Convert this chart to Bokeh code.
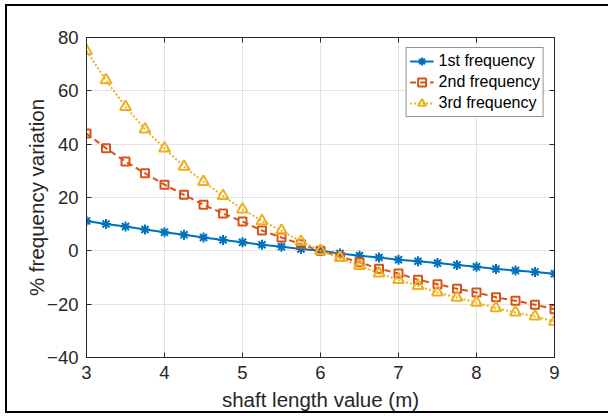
from bokeh.plotting import figure
from bokeh.models import LinearAxis, Legend, LegendItem, Range1d, FixedTicker
from bokeh.embed import file_html
from bokeh.resources import INLINE

x_vals = [3.0, 3.25, 3.5, 3.75, 4.0, 4.25, 4.5, 4.75, 5.0, 5.25, 5.5, 5.75, 6.0,
          6.25, 6.5, 6.75, 7.0, 7.25, 7.5, 7.75, 8.0, 8.25, 8.5, 8.75, 9.0]
freq1 = [11.2, 10.1, 9.1, 8.0, 7.0, 6.0, 5.0, 4.1, 3.2, 2.3, 1.5, 0.7, 0.0,
         -1.0, -1.8, -2.5, -3.3, -3.9, -4.6, -5.3, -6.0, -6.8, -7.4, -7.9, -8.6]
freq2 = [44.0, 38.5, 33.5, 29.1, 24.8, 21.0, 17.3, 14.0, 11.0, 7.6, 5.0, 2.5, 0.0,
         -2.2, -4.3, -6.7, -8.5, -10.8, -12.5, -14.2, -15.6, -17.4, -18.7, -20.2, -21.9]
freq3 = [75.0, 64.0, 54.0, 45.6, 38.4, 31.6, 25.9, 20.6, 15.6, 11.2, 7.6, 3.5, 0.0,
         -2.6, -5.6, -8.4, -10.9, -13.1, -15.6, -17.5, -19.4, -21.5, -23.1, -24.6, -26.5]
labels = ["1st frequency", "2nd frequency", "3rd frequency"]
x_ticks = [3, 4, 5, 6, 7, 8, 9]
y_ticks = [-40, -20, 0, 20, 40, 60, 80]

c1, c2, c3 = "#0072BD", "#D95319", "#EDB120"
axis_col = "#262626"
font = "Liberation Sans"

p = figure(width=608, height=413, output_backend="svg", toolbar_location=None,
           x_range=Range1d(3, 9), y_range=Range1d(-40, 80),
           min_border_left=86, min_border_right=54, min_border_top=37,
           min_border_bottom=56, x_axis_label="shaft length value (m)",
           y_axis_label="% frequency variation")
# outer figure frame (top, left, bottom edges) painted behind the transparent border area
p.styles = {"vertical-align": "top", "background":
            "linear-gradient(#000,#000) 5px 4px / 2px 409px no-repeat, "
            "linear-gradient(#000,#000) 5px 4px / 603px 2px no-repeat, "
            "linear-gradient(#000,#000) 5px 411px / 603px 2px no-repeat, #ffffff"}
p.background_fill_color = "white"
p.border_fill_alpha = 0
p.outline_line_color = axis_col
p.outline_line_width = 1

p.xaxis.ticker = FixedTicker(ticks=x_ticks)
p.yaxis.ticker = FixedTicker(ticks=y_ticks)
for ax in [p.xaxis[0], p.yaxis[0]]:
    ax.axis_line_color = axis_col
    ax.major_tick_line_color = axis_col
    ax.major_tick_in = 5
    ax.major_tick_out = 0
    ax.minor_tick_line_color = None
    ax.major_label_text_font = font
    ax.major_label_text_font_size = "18.5px"
    ax.major_label_text_color = axis_col
    ax.axis_label_text_font = font
    ax.axis_label_text_font_size = "20.5px"
    ax.axis_label_text_font_style = "normal"
    ax.axis_label_text_color = axis_col
p.xaxis.major_label_standoff = 8
p.yaxis.major_label_standoff = 8
p.xaxis.axis_label_standoff = 6
p.yaxis.axis_label_standoff = -4

top_ax = LinearAxis(ticker=FixedTicker(ticks=x_ticks),
                    major_label_overrides={t: "" for t in x_ticks},
                    major_tick_in=5, major_tick_out=0, minor_tick_line_color=None,
                    axis_line_color=axis_col, major_tick_line_color=axis_col)
right_ax = LinearAxis(ticker=FixedTicker(ticks=y_ticks),
                      major_label_overrides={t: "" for t in y_ticks},
                      major_tick_in=5, major_tick_out=0, minor_tick_line_color=None,
                      axis_line_color=axis_col, major_tick_line_color=axis_col)
p.add_layout(top_ax, "above")
p.add_layout(right_ax, "right")

p.xgrid.ticker = FixedTicker(ticks=x_ticks)
p.ygrid.ticker = FixedTicker(ticks=y_ticks)
p.grid.grid_line_color = "#E3E3E3"
p.grid.grid_line_width = 1

l1 = p.line(x_vals, freq1, line_color=c1, line_width=2)
s1 = p.scatter(x_vals, freq1, marker="asterisk", size=10, line_color=c1, line_width=2)
l2 = p.line(x_vals, freq2, line_color=c2, line_width=2, line_dash="6 4")
s2 = p.scatter(x_vals, freq2, marker="square", size=8, line_color=c2, line_width=2,
               fill_color=None)
l3 = p.line(x_vals, freq3, line_color=c3, line_width=2, line_dash="2 2")
s3 = p.scatter(x_vals, freq3, marker="triangle", size=11, line_color=c3, line_width=2,
               fill_color=None)

legend = Legend(items=[LegendItem(label=labels[0], renderers=[l1, s1]),
                       LegendItem(label=labels[1], renderers=[l2, s2]),
                       LegendItem(label=labels[2], renderers=[l3, s3])],
                location="top_right")
legend.margin = 10
legend.padding = 3
legend.spacing = 1
legend.glyph_width = 24
legend.glyph_height = 20
legend.label_standoff = 5
legend.label_text_font = font
legend.label_text_font_size = "16px"
legend.label_text_color = "#000000"
legend.border_line_color = axis_col
legend.border_line_width = 1
legend.background_fill_alpha = 1
p.add_layout(legend)

open("out.html", "w").write(file_html(p, INLINE))
